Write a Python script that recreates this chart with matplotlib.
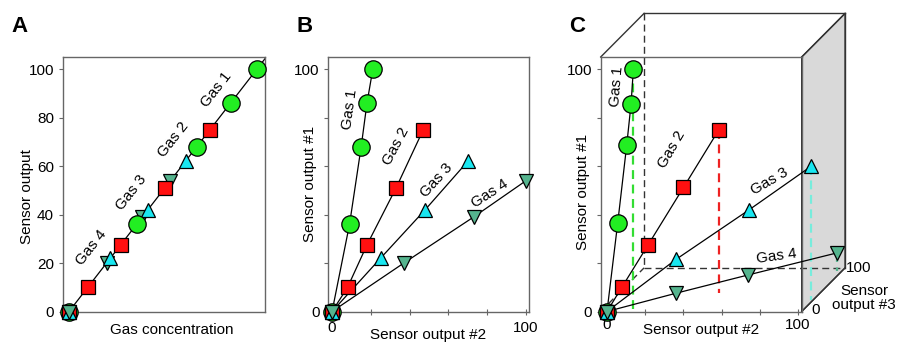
import matplotlib
matplotlib.use('Agg')
import matplotlib.pyplot as plt
from matplotlib.patches import Polygon

plt.rcParams['font.family'] = ['Liberation Sans', 'DejaVu Sans']
plt.rcParams['font.size'] = 11

# ---------------- data ----------------
gas_names = ['Gas 1', 'Gas 2', 'Gas 3', 'Gas 4']

# Sensor output #1 (panel A and B)
s1_gas1 = [0, 36, 68, 86, 100]
s1_gas2 = [0, 10, 27.5, 51, 75]
s1_gas3 = [0, 22, 42, 62]
s1_gas4 = [0, 20, 39, 54]

# Sensor output #2 (panel B)
s2_gas1 = [0, 9, 15, 18, 21]
s2_gas2 = [0, 8, 18, 33, 47]
s2_gas3 = [0, 25, 48, 70]
s2_gas4 = [0, 37, 73, 100]

# Panel C: 3-sensor coordinates (#2, #1, #3)
c_s2_gas1 = [0, 5.6, 10.3, 12.6, 13.8]
c_s1_gas1 = [0, 36.5, 68.5, 85.7, 100]
c_s3_gas1 = [0, 0, 0, 0, 0]

c_s2_gas2 = [0, 6.5, 18, 33.5, 49]
c_s1_gas2 = [0, 9, 24.7, 46, 67.4]
c_s3_gas2 = [0, 5.6, 15.4, 28.7, 42]

c_s2_gas3 = [0, 34, 70, 100.6]
c_s1_gas3 = [0, 19.8, 38.5, 55]
c_s3_gas3 = [0, 9.6, 19, 27]

c_s2_gas4 = [0, 30, 61, 99.4]
c_s1_gas4 = [0, 2.6, 4.9, 7.6]
c_s3_gas4 = [0, 27.6, 56.5, 92]

y_ticks_A = [0, 20, 40, 60, 80, 100]

# ---------------- styles ----------------
colors = ['#22ee22', '#ff1010', '#19e6f0', '#55b48e']
drop_colors = ['#33dd33', '#ee2222', '#77ecdc', '#55b48e']
markers = ['o', 's', '^', 'v']
msizes = [12.5, 10, 10.5, 10.5]
spine_col = '#666666'
box_col = '#333333'

W, H = 902, 342
fig = plt.figure(figsize=(W / 100, H / 100), dpi=100)


def add_ax(left, right, top, bottom):
    return fig.add_axes([left / W, 1 - bottom / H, (right - left) / W, (bottom - top) / H])


def style(ax):
    for sp in ax.spines.values():
        sp.set_color(spine_col)
        sp.set_linewidth(1.0)
    ax.tick_params(axis='both', colors=spine_col, labelcolor='black', labelsize=11,
                   length=3, width=0.8)


def draw_markers(ax, xs, ys, order):
    for i in order:
        ax.plot(xs[i][1:], ys[i][1:], linestyle='none', marker=markers[i], ms=msizes[i],
                mfc=colors[i], mec='black', mew=0.9, clip_on=False, zorder=5)
    # origin markers
    for i in range(4):
        ax.plot(xs[i][:1], ys[i][:1], linestyle='none', marker=markers[i], ms=msizes[i],
                mfc=colors[i], mec='black', mew=0.9, clip_on=False, zorder=6)


def xy_ticks(ax, xpad):
    ax.set_xticks([0, 100])
    ax.set_xticks([20, 40, 60, 80], minor=True)
    ax.set_yticks([0, 100])
    ax.set_yticks([20, 40, 60, 80], minor=True)
    ax.tick_params(axis='y', which='both', direction='out', length=3, width=0.8,
                   colors=spine_col, labelcolor='black', pad=3)
    ax.tick_params(axis='x', which='both', direction='inout', length=4, width=0.8,
                   colors=spine_col, labelcolor='black', pad=xpad)


def xlabel_at(ax, text, xfrac, yfrac):
    ax.set_xlabel(text, fontsize=11)
    ax.xaxis.set_label_coords(xfrac, yfrac)
    ax.xaxis.label.set_va('top')


# ---------------- Panel A ----------------
axA = add_ax(63, 265, 57, 311.5)
style(axA)
axA.set_xlim(-3.2, 104.3)
axA.set_ylim(0, 105)
axA.plot([0, 110], [0, 110], color='black', lw=0.9, zorder=2)
A_y = [s1_gas1, s1_gas2, s1_gas3, s1_gas4]
draw_markers(axA, A_y, A_y, [3, 2, 1, 0])
axA.set_xticks([])
axA.set_yticks(y_ticks_A)
axA.tick_params(axis='y', direction='out')
xlabel_at(axA, 'Gas concentration', 0.54, -0.045)
axA.set_ylabel('Sensor output', fontsize=11)
axA.yaxis.set_label_coords(-0.144, 0.45)
A_lbl = [(78.6, 91.5), (55.3, 70.9), (33.4, 49.0), (12.1, 26.2)]
for (x, y), name in zip(A_lbl, gas_names):
    axA.text(x, y, name, rotation=52, ha='center', va='center', fontsize=11)

# ---------------- Panel B ----------------
axB = add_ax(328, 529, 57, 311.5)
style(axB)
axB.set_xlim(-2.1, 101.5)
axB.set_ylim(0, 105)
B_x = [s2_gas1, s2_gas2, s2_gas3, s2_gas4]
B_y = [s1_gas1, s1_gas2, s1_gas3, s1_gas4]
for i in range(4):
    axB.plot(B_x[i], B_y[i], color='black', lw=0.9, zorder=2, clip_on=False)
draw_markers(axB, B_x, B_y, [0, 1, 2, 3])
xy_ticks(axB, 5)
xlabel_at(axB, 'Sensor output #2', 0.5, -0.066)
axB.set_ylabel('Sensor output #1', fontsize=11)
axB.yaxis.set_label_coords(-0.055, 0.50)
B_lbl = [(9.3, 83.3, 82), (33, 68, 62), (54, 54.3, 48), (81.4, 48.6, 33)]
for (x, y, r), name in zip(B_lbl, gas_names):
    axB.text(x, y, name, rotation=r, ha='center', va='center', fontsize=11)

# ---------------- Panel C ----------------
axC = add_ax(600.7, 801.7, 57, 311.5)
style(axC)
L, R, Bt, T = -3.3, 101.9, 0, 105
axC.set_xlim(L, R)
axC.set_ylim(Bt, T)
KX, KY = 0.227, 0.18  # oblique projection of sensor #3 axis
DX, DY = KX * 100, KY * 100


def proj(s2, s1, s3):
    return ([a + KX * c for a, c in zip(s2, s3)], [b + KY * c for b, c in zip(s1, s3)])


# gray right face
face = Polygon([(R, T), (R + DX, T + DY), (R + DX, Bt + DY), (R, Bt)], closed=True,
               facecolor='#d9d9d9', edgecolor=box_col, lw=1.0, clip_on=False, zorder=0.5)
axC.add_patch(face)
solid = [((L, T), (L + DX, T + DY)), ((L + DX, T + DY), (R + DX, T + DY)),
         ((R, T), (R + DX, T + DY)), ((R + DX, T + DY), (R + DX, Bt + DY)),
         ((R + DX, Bt + DY), (R, Bt))]
for (x0, y0), (x1, y1) in solid:
    axC.plot([x0, x1], [y0, y1], color=box_col, lw=1.0, clip_on=False, zorder=1)
dashed = [((L + DX, T + DY), (L + DX, Bt + DY)), ((L + DX, Bt + DY), (R + DX, Bt + DY)),
          ((L, Bt), (L + DX, Bt + DY))]
for (x0, y0), (x1, y1) in dashed:
    axC.plot([x0, x1], [y0, y1], color=box_col, lw=1.0, ls=(0, (5, 3)), clip_on=False, zorder=1)

C_s2 = [c_s2_gas1, c_s2_gas2, c_s2_gas3, c_s2_gas4]
C_s1 = [c_s1_gas1, c_s1_gas2, c_s1_gas3, c_s1_gas4]
C_s3 = [c_s3_gas1, c_s3_gas2, c_s3_gas3, c_s3_gas4]
C_x, C_y = [], []
for i in range(4):
    px, py = proj(C_s2[i], C_s1[i], C_s3[i])
    C_x.append(px)
    C_y.append(py)
    # drop line from last point to the floor
    fx, fy = proj([C_s2[i][-1]], [0], [C_s3[i][-1]])
    axC.plot([px[-1], fx[0]], [py[-1], fy[0]], color=drop_colors[i], lw=1.6,
             ls=(0, (4, 2.5)), clip_on=False, zorder=2)
    axC.plot(px, py, color='black', lw=0.9, zorder=3, clip_on=False)
draw_markers(axC, C_x, C_y, [0, 1, 2, 3])
xy_ticks(axC, 3)
xlabel_at(axC, 'Sensor output #2', 0.5, -0.045)
axC.set_ylabel('Sensor output #1', fontsize=11)
axC.yaxis.set_label_coords(-0.053, 0.47)
C_lbl = [(5.1, 92.9, 85), (33.9, 66.8, 60), (85.3, 53.7, 30), (88.8, 22.7, 8)]
for (x, y, r), name in zip(C_lbl, gas_names):
    axC.text(x, y, name, rotation=r, ha='center', va='center', fontsize=11, zorder=4)
# sensor #3 axis labels
axC.text(R + 5, Bt + 0.5, '0', ha='left', va='center', fontsize=11, clip_on=False)
axC.text(R + DX + 0.5, Bt + DY, '100', ha='left', va='center', fontsize=11, clip_on=False)
axC.text(R + DX + 10, Bt + 5.5, 'Sensor\noutput #3', ha='center', va='center',
         fontsize=11, linespacing=1.0, clip_on=False)

# panel letters
for lab, xp in zip(['A', 'B', 'C'], [20, 305, 577]):
    fig.text(xp / W, 1 - 27 / H, lab, fontsize=16, fontweight='bold', ha='center', va='center')

fig.savefig('out.png', dpi=100)
